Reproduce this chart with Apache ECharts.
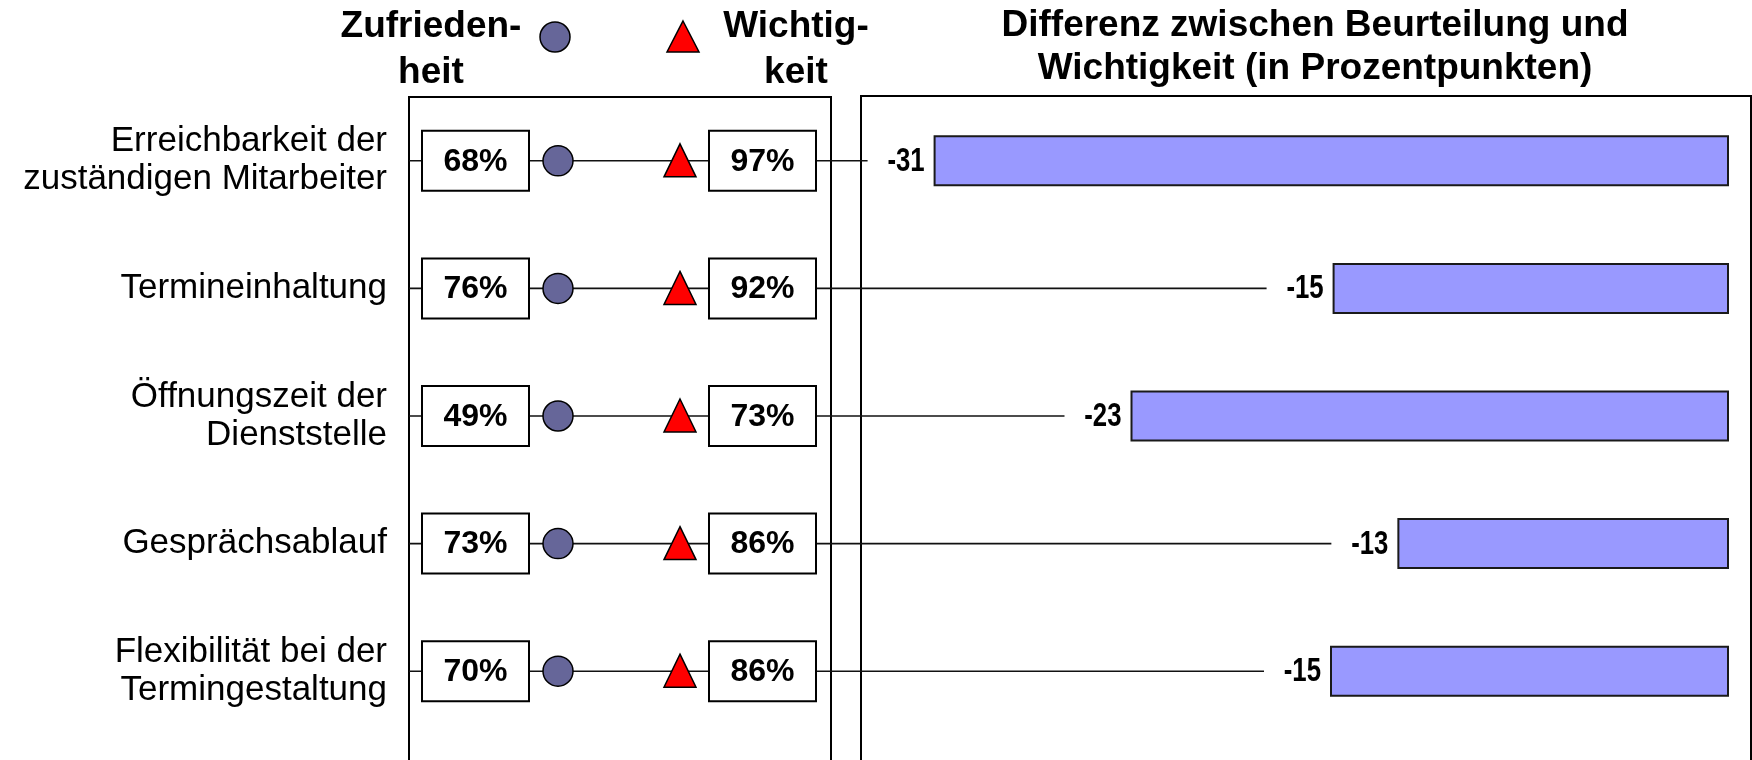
<!DOCTYPE html>
<html>
<head>
<meta charset="utf-8">
<style>
  html, body { margin: 0; padding: 0; background: #fff; }
  #chart { width: 1752px; height: 760px; }
</style>
<script src="https://cdn.jsdelivr.net/npm/echarts@6/dist/echarts.min.js"></script>
</head>
<body>
<div id="chart"></div>
<script>
// rows, top to bottom
const categories = [
  'Erreichbarkeit der\nzuständigen Mitarbeiter',
  'Termineinhaltung',
  'Öffnungszeit der\nDienststelle',
  'Gesprächsablauf',
  'Flexibilität bei der\nTermingestaltung'
]
const satisfaction = [68, 76, 49, 73, 70]   // Zufriedenheit in %
const importance = [97, 92, 73, 86, 86]     // Wichtigkeit in %
const gap = [-30.7, -15.3, -23.1, -12.8, -15.4] // Differenz in Prozentpunkten

const FONT = '"Liberation Sans", Arial, sans-serif'
const panelL = { left: 409, width: 422 }
const panelR = { left: 861, width: 890 }
const rowsTop = 97
const rowsHeight = 638

const chart = echarts.init(document.getElementById('chart'))

const headerText = (text, x, lineHeight) => ({
  type: 'text',
  x,
  y: 4,
  style: {
    text,
    font: 'bold 37px ' + FONT,
    fill: '#000',
    align: 'center',
    textAlign: 'center',
    verticalAlign: 'top',
    textVerticalAlign: 'top',
    lineHeight
  }
})

chart.setOption({
  animation: false,
  grid: [
    { left: panelL.left, width: panelL.width, top: rowsTop, height: rowsHeight, outerBoundsMode: 'none' },
    { left: 874, right: 23, top: rowsTop, height: rowsHeight, outerBoundsMode: 'none' }
  ],
  xAxis: [
    { gridIndex: 0, type: 'value', min: 0, max: 1, show: false },
    { gridIndex: 1, type: 'value', min: -33, max: 0, show: false }
  ],
  yAxis: [
    {
      gridIndex: 0,
      type: 'category',
      inverse: true,
      data: categories,
      axisLine: { show: false },
      axisTick: { show: false },
      splitLine: { show: false },
      axisLabel: { margin: 22, color: '#000', fontFamily: FONT, fontSize: 35, lineHeight: 38 }
    },
    { gridIndex: 1, type: 'category', inverse: true, data: categories, show: false }
  ],
  graphic: [
    { type: 'rect', z: 0, shape: { x: panelL.left, y: rowsTop, width: panelL.width, height: 700 },
      style: { fill: 'none', stroke: '#000', lineWidth: 2 } },
    { type: 'rect', z: 0, shape: { x: panelR.left, y: rowsTop - 1, width: panelR.width, height: 700 },
      style: { fill: 'none', stroke: '#000', lineWidth: 2 } },
    headerText('Zufrieden-\nheit', 431, 46),
    headerText('Wichtig-\nkeit', 796, 46),
    headerText('Differenz zwischen Beurteilung und\nWichtigkeit (in Prozentpunkten)', 1315, 43),
    { type: 'circle', shape: { cx: 555, cy: 37, r: 15 },
      style: { fill: '#666699', stroke: '#000', lineWidth: 1.5 } },
    { type: 'polygon', shape: { points: [[683, 21], [699, 52], [667, 52]] },
      style: { fill: '#ff0000', stroke: '#000', lineWidth: 1.5 } }
  ],
  series: [
    {
      // connector from the table row, plus the narrow gap label in front of the bar
      type: 'custom',
      xAxisIndex: 1,
      yAxisIndex: 1,
      z: 1,
      silent: true,
      clip: false,
      data: gap.map((v, i) => [v, i]),
      renderItem: (params, api) => {
        const p = api.coord([api.value(0), api.value(1)])
        return {
          type: 'group',
          children: [
            { type: 'line', shape: { x1: panelL.left, y1: p[1], x2: p[0] - 66, y2: p[1] },
              style: { stroke: '#111', lineWidth: 1.6 } },
            { type: 'text', x: p[0] - 9, y: p[1] + 1, scaleX: 0.78,
              style: { text: String(Math.round(api.value(0))), font: 'bold 33px ' + FONT, fill: '#000',
                align: 'right', textAlign: 'right', verticalAlign: 'middle', textVerticalAlign: 'middle' } }
          ]
        }
      }
    },
    {
      type: 'bar',
      xAxisIndex: 1,
      yAxisIndex: 1,
      z: 2,
      data: gap,
      barWidth: 51,
      itemStyle: { color: '#9999ff', borderColor: '#1a1a1a', borderWidth: 2 }
    },
    {
      // table: satisfaction box, circle, triangle, importance box
      type: 'custom',
      xAxisIndex: 0,
      yAxisIndex: 0,
      z: 3,
      silent: true,
      clip: false,
      data: categories.map((c, i) => [0, i, satisfaction[i], importance[i]]),
      encode: { x: 0, y: 1 },
      renderItem: (params, api) => {
        const x0 = params.coordSys.x
        const y = api.coord([0, api.value(1)])[1]
        const box = (left, value) => [
          { type: 'rect', shape: { x: x0 + left, y: y - 30, width: 107, height: 60 },
            style: { fill: '#fff', stroke: '#000', lineWidth: 2 } },
          { type: 'text', x: x0 + left + 53.5, y: y + 1,
            style: { text: value + '%', font: 'bold 32px ' + FONT, fill: '#000',
              align: 'center', textAlign: 'center', verticalAlign: 'middle', textVerticalAlign: 'middle' } }
        ]
        return {
          type: 'group',
          children: [
            ...box(13, api.value(2)),
            { type: 'circle', shape: { cx: x0 + 149, cy: y, r: 15 },
              style: { fill: '#666699', stroke: '#000', lineWidth: 1.5 } },
            { type: 'polygon', shape: { points: [[x0 + 271, y - 17], [x0 + 287, y + 16], [x0 + 255, y + 16]] },
              style: { fill: '#ff0000', stroke: '#000', lineWidth: 1.5 } },
            ...box(300, api.value(3))
          ]
        }
      }
    }
  ]
})

window.addEventListener('resize', () => chart.resize())
</script>
</body>
</html>
